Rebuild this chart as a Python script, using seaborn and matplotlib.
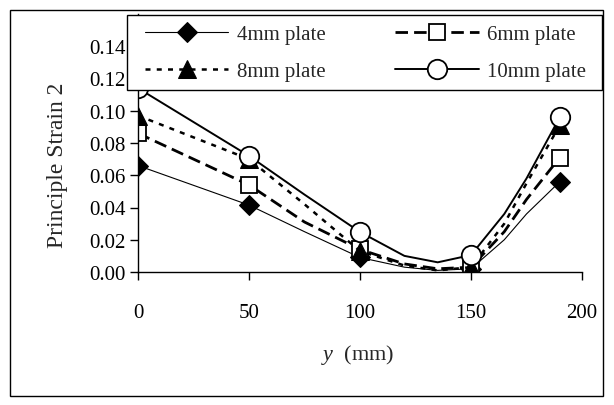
import numpy as np
import pandas as pd
import matplotlib
matplotlib.use("Agg")
import matplotlib.pyplot as plt
import seaborn as sns
from matplotlib.patches import Rectangle

sns.set_style("ticks")
plt.rcParams['font.family'] = ['Liberation Serif', 'DejaVu Serif']
plt.rcParams['mathtext.fontset'] = 'custom'
plt.rcParams['mathtext.rm'] = 'Liberation Serif'
plt.rcParams['mathtext.it'] = 'Liberation Serif:italic'

# ---- data ----
y_pos = [0, 50, 75, 100, 120, 135, 150, 165, 175, 190]
marker_pos = [0, 50, 100, 150, 190]
strain_4mm = [0.066, 0.0415, 0.025, 0.009, 0.003, 0.001, 0.002, 0.020, 0.036, 0.056]
strain_6mm = [0.086, 0.054, 0.031, 0.014, 0.005, 0.002, 0.003, 0.025, 0.045, 0.071]
strain_8mm = [0.097, 0.070, 0.042, 0.013, 0.004, 0.001, 0.003, 0.030, 0.055, 0.091]
strain_10mm = [0.114, 0.072, 0.048, 0.0248, 0.010, 0.006, 0.0105, 0.036, 0.058, 0.096]
series_names = ['4mm plate', '6mm plate', '8mm plate', '10mm plate']
x_ticks = [0, 50, 100, 150, 200]
y_ticks = [0.00, 0.02, 0.04, 0.06, 0.08, 0.10, 0.12, 0.14]

series = [strain_4mm, strain_6mm, strain_8mm, strain_10mm]
styles = [
    dict(linestyle='-', linewidth=0.8, marker='D', markersize=10, mfc='black', mec='black'),
    dict(linestyle=(0, (4.5, 2.2)), linewidth=2.0, marker='s', markersize=12, mfc='white', mec='black', mew=1.3),
    dict(linestyle=(0, (2, 2.5)), linewidth=1.8, marker='^', markersize=13, mfc='black', mec='black'),
    dict(linestyle='-', linewidth=1.4, marker='o', markersize=14, mfc='white', mec='black', mew=1.3),
]

fig = plt.figure(figsize=(6.14, 4.06), dpi=100)
W, H = 614, 406
ax = fig.add_axes([138 / W, 1 - 273 / H, (582 - 138) / W, (273 - 15) / H])

mark_idx = [y_pos.index(m) for m in marker_pos]
for name, vals, st in zip(series_names, series, styles):
    df = pd.DataFrame({'y': y_pos, 'strain': vals})
    sns.lineplot(data=df, x='y', y='strain', ax=ax, color='black', label=name,
                 markevery=mark_idx, sort=False, **st)

ax.set_xlim(0, 200)
ax.set_ylim(0, 0.16)
ax.set_xticks(x_ticks)
ax.set_yticks(y_ticks)
ax.set_yticklabels([f'{v:.2f}' for v in y_ticks])
ax.tick_params(axis='x', direction='out', length=6, width=1, pad=16, labelsize=15, colors='black')
ax.tick_params(axis='y', direction='out', length=6, width=1, pad=3, labelsize=15, colors='black')
for s in ['top', 'right']:
    ax.spines[s].set_visible(False)
for s in ['left', 'bottom']:
    ax.spines[s].set_color('black')
    ax.spines[s].set_linewidth(1)
ax.set_xlabel('')
ax.set_ylabel('')

fig.text(57 / W, 1 - 165 / H, 'Principle Strain 2', rotation=90, ha='center', va='center', fontsize=17)
fig.text(358 / W, 1 - 355 / H, r'$y$  (mm)', ha='center', va='center', fontsize=16)

# legend frame drawn as separate rectangle (above the data, below legend entries)
frame = Rectangle((127 / W, 1 - 91 / H), (602 - 127) / W, (91 - 16) / H,
                  transform=fig.transFigure, facecolor='white', edgecolor='black',
                  linewidth=1, zorder=9, clip_on=False)
ax.add_patch(frame)

handles, labels = ax.get_legend_handles_labels()
order = [0, 2, 1, 3]  # row-wise filling: 4mm, 6mm / 8mm, 10mm
leg = ax.legend([handles[i] for i in order], [labels[i] for i in order],
                loc='center left', bbox_to_anchor=(145 / W, 1 - 91 / H, (586 - 145) / W, 74 / H),
                bbox_transform=fig.transFigure, mode='expand', ncol=2, fontsize=15,
                handlelength=4.0, handletextpad=0.4, borderpad=0.0, labelspacing=0.85,
                frameon=False, borderaxespad=0)
leg.set_zorder(10)

fig.patches.append(Rectangle((10 / W, 1 - 397 / H), (603 - 10) / W, (397 - 11) / H,
                             transform=fig.transFigure, fill=False, edgecolor='black', linewidth=1))

fig.savefig('out.png', dpi=100, facecolor='white')
